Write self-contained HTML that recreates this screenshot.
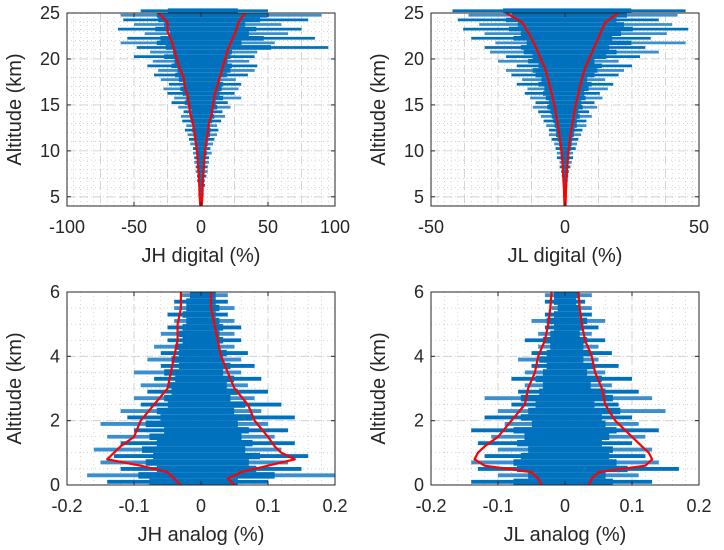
<!DOCTYPE html>
<html><head><meta charset="utf-8">
<style>
html,body{margin:0;padding:0;background:#fff;}
svg{display:block;font-family:"Liberation Sans",Arial,sans-serif;}
</style></head>
<body>
<svg id="fig" width="724" height="550" viewBox="0 0 724 550" xmlns="http://www.w3.org/2000/svg"></svg>
<script>
// ---- Panel 1: JH digital ----
const jhdBinStart = 4, jhdBinStep = 0.5;
const jhdBlueLeft = [-1,-1,-2,-2,-2,-3,-3,-4,-4,-5,-5,-6,-6,-8,-9,-10,-12,-11,-14,-15,-13,-17,-22,-20,-25,-28,-24,-30,-35,-32,-40,-36,-50,-38,-48,-60,-55,-42,-62,-50,-58,-60,-45];
const jhdBlueRight = [1,1,2,2,3,3,4,5,5,6,6,8,7,9,10,12,13,12,15,18,16,22,20,30,25,28,30,26,35,40,42,36,40,42,95,55,85,65,75,60,80,90,50];
const jhdRedAlt = [4,5,6,7,8,9,10,11,12,13,14,15,16,17,18,19,20,21,22,23,24,25];
const jhdRedLeft = [-0.5,-1,-1.2,-1.5,-2,-2.5,-3,-4,-5,-6,-8,-9,-10,-12,-13,-16,-18,-20,-22,-25,-25,-32];
const jhdRedRight = [0.5,1,1.2,1.5,2,2.5,3,4,5,6,8,9,10,12,14,16,18,20,23,26,28,33];
const jhdXTicks = [-100,-50,0,50,100];
const jhdYTicks = [5,10,15,20,25];

// ---- Panel 2: JL digital ----
const jldBinStart = 4, jldBinStep = 0.5;
const jldBlueLeft = [-0.3,-0.4,-0.5,-0.6,-0.8,-1,-1.2,-1.5,-2,-2,-3,-3,-3.5,-4,-5,-6,-6,-7,-8,-9,-10,-12,-11,-13,-15,-14,-18,-16,-20,-22,-18,-25,-22,-28,-30,-26,-35,-30,-38,-32,-40,-36,-42];
const jldBlueRight = [0.3,0.4,0.5,0.6,0.8,1,1.2,1.5,2,2.5,3,3,4,4.5,5,6,6.5,8,8,10,9,12,11,14,13,16,18,15,20,22,25,20,28,35,30,45,32,38,46,40,35,42,45];
const jldRedAlt = [4,5,6,7,8,9,10,11,12,13,14,15,16,17,18,19,20,21,22,23,24,25];
const jldRedLeft = [-0.2,-0.3,-0.4,-0.6,-0.8,-1,-1.3,-1.7,-2.2,-2.8,-3.4,-4,-4.8,-5.6,-6.5,-7.5,-9,-10.5,-12,-14,-16,-22];
const jldRedRight = [0.2,0.3,0.4,0.6,0.8,1,1.3,1.7,2.2,2.8,3.4,4,4.8,5.6,6.5,7.5,9,10.5,12,13.5,15,20];
const jldXTicks = [-50,0,50];
const jldYTicks = [5,10,15,20,25];

// ---- Panel 3: JH analog ----
const jhaBinStart = 0, jhaBinStep = 0.2;
const jhaBlueLeft = [-0.14,-0.17,-0.12,-0.15,-0.13,-0.16,-0.12,-0.14,-0.10,-0.15,-0.11,-0.12,-0.09,-0.10,-0.08,-0.09,-0.07,-0.10,-0.06,-0.08,-0.06,-0.07,-0.05,-0.06,-0.05,-0.04,-0.05,-0.04,-0.04,-0.03];
const jhaBlueRight = [0.10,0.20,0.15,0.13,0.16,0.12,0.14,0.11,0.13,0.10,0.14,0.09,0.12,0.08,0.10,0.07,0.09,0.06,0.08,0.06,0.07,0.05,0.06,0.05,0.06,0.05,0.04,0.05,0.04,0.04];
const jhaRedAlt = [0,0.2,0.4,0.6,0.8,1.0,1.2,1.5,2.0,2.5,3.0,3.5,4.0,4.5,5.0,5.5,6.0];
const jhaRedLeft = [-0.03,-0.04,-0.05,-0.09,-0.14,-0.13,-0.12,-0.10,-0.09,-0.07,-0.05,-0.045,-0.04,-0.035,-0.035,-0.03,-0.03];
const jhaRedRight = [0.05,0.04,0.06,0.10,0.14,0.12,0.11,0.10,0.08,0.07,0.05,0.04,0.03,0.025,0.02,0.015,0.015];
const jhaXTicks = [-0.2,-0.1,0,0.1,0.2];
const jhaYTicks = [0,2,4,6];

// ---- Panel 4: JL analog ----
const jlaBinStart = 0, jlaBinStep = 0.2;
const jlaBlueLeft = [-0.14,-0.10,-0.13,-0.14,-0.12,-0.10,-0.13,-0.11,-0.14,-0.09,-0.12,-0.10,-0.08,-0.12,-0.07,-0.06,-0.08,-0.06,-0.05,-0.07,-0.05,-0.04,-0.06,-0.04,-0.03,-0.05,-0.03,-0.02,-0.03,-0.03];
const jlaBlueRight = [0.13,0.11,0.17,0.14,0.12,0.13,0.10,0.12,0.14,0.11,0.10,0.15,0.08,0.13,0.11,0.07,0.10,0.06,0.08,0.05,0.07,0.05,0.06,0.04,0.05,0.06,0.04,0.04,0.03,0.04];
const jlaRedAlt = [0,0.2,0.4,0.6,0.8,1.0,1.2,1.5,2.0,2.5,3.0,3.5,4.0,4.5,5.0,5.5,6.0];
const jlaRedLeft = [-0.035,-0.04,-0.05,-0.12,-0.135,-0.13,-0.12,-0.10,-0.08,-0.06,-0.055,-0.045,-0.04,-0.03,-0.025,-0.022,-0.02];
const jlaRedRight = [0.035,0.04,0.05,0.12,0.13,0.125,0.115,0.10,0.075,0.06,0.055,0.045,0.04,0.03,0.025,0.022,0.02];
const jlaXTicks = [-0.2,-0.1,0,0.1,0.2];
const jlaYTicks = [0,2,4,6];

const NS = "http://www.w3.org/2000/svg";
const fig = document.getElementById('fig');
function mk(tag, attrs, parent){
  const e = document.createElementNS(NS, tag);
  for (const k in attrs) e.setAttribute(k, attrs[k]);
  (parent||fig).appendChild(e);
  return e;
}
function fmt(v){ return (Math.round(v*1000)/1000).toString(); }

function panel(p){
  const g = mk('g', {});
  
  
  const sx = v => p.x0 + (v - p.xmin) / (p.xmax - p.xmin) * (p.x1 - p.x0);
  const sy = v => p.y1 - (v - p.ymin) / (p.ymax - p.ymin) * (p.y1 - p.y0);
  for (let v = p.xmin; v <= p.xmax + 1e-9; v += p.xMinor) {
    mk('line', {x1:sx(v),x2:sx(v),y1:p.y0,y2:p.y1,stroke:'#bbb','stroke-width':0.6,'stroke-dasharray':'1 3'}, g);
  }
  for (let v = p.ymin; v <= p.ymax + 1e-9; v += p.yMinor) {
    mk('line', {x1:p.x0,x2:p.x1,y1:sy(v),y2:sy(v),stroke:'#bbb','stroke-width':0.6,'stroke-dasharray':'1 3'}, g);
  }
  for (let v = p.xmin; v <= p.xmax + 1e-9; v += p.xMajor) {
    mk('line', {x1:sx(v),x2:sx(v),y1:p.y0,y2:p.y1,stroke:'#ccc','stroke-width':0.8,'stroke-dasharray':'8 5'}, g);
  }
  p.yTicks.forEach(v => mk('line', {x1:p.x0,x2:p.x1,y1:sy(v),y2:sy(v),stroke:'#ccc','stroke-width':0.8,'stroke-dasharray':'8 5'}, g));
  const bh = Math.abs(sy(p.binStep) - sy(0));
  p.bl.forEach((l, i) => {
    const a = p.binStart + (i + 0.5) * p.binStep;
    const r = p.br[i];
    const ln = mk('line', {x1:sx(l),x2:sx(r),y1:sy(a),y2:sy(a),stroke:(i%2? '#3a8fd0':'#0072BD'),'stroke-width':bh*0.6}, g);
    
    
    const c = mk('line', {x1:sx(l*0.55),x2:sx(r*0.55),y1:sy(a),y2:sy(a),stroke:'#0072BD','stroke-width':bh}, g);
    
    
  });
  [p.rl, p.rr].forEach((arr, k) => {
    const d = arr.map((v, i) => (i ? 'L' : 'M') + sx(v).toFixed(1) + ' ' + sy(p.ra[i]).toFixed(1)).join(' ');
    const pa = mk('path', {d:d, fill:'none', stroke:'#ff0000', 'stroke-width':2.2, 'stroke-linejoin':'round'}, g);
    
    
  });
  const box = mk('rect', {x:p.x0,y:p.y0,width:p.x1-p.x0,height:p.y1-p.y0,fill:'none',stroke:'#262626','stroke-width':1}, g);
  
  
  p.xTicks.forEach(v => {
    mk('line', {x1:sx(v),x2:sx(v),y1:p.y1,y2:p.y1-4,stroke:'#262626'}, g);
    mk('line', {x1:sx(v),x2:sx(v),y1:p.y0,y2:p.y0+4,stroke:'#262626'}, g);
    const t = mk('text', {x:sx(v),y:p.y1+27,'text-anchor':'middle','font-size':18,fill:'#262626'}, g);
    t.textContent = fmt(v);
    
    
  });
  p.yTicks.forEach(v => {
    mk('line', {x1:p.x0,x2:p.x0+4,y1:sy(v),y2:sy(v),stroke:'#262626'}, g);
    mk('line', {x1:p.x1,x2:p.x1-4,y1:sy(v),y2:sy(v),stroke:'#262626'}, g);
    const t = mk('text', {x:p.x0-7,y:sy(v)+6,'text-anchor':'end','font-size':18,fill:'#262626'}, g);
    t.textContent = fmt(v);
    
    
  });
  const xt = mk('text', {x:(p.x0+p.x1)/2,y:p.y1+56,'text-anchor':'middle','font-size':20,fill:'#262626'}, g);
  xt.textContent = p.xlabel;
  
  
  const cy = (p.y0+p.y1)/2, cx = p.x0 - 46;
  const yt = mk('text', {x:cx,y:cy,'text-anchor':'middle','font-size':20,fill:'#262626',transform:`rotate(-90 ${cx} ${cy})`}, g);
  yt.textContent = 'Altitude (km)';
  
  
}

panel({name:'jh-digital-panel',x0:67,x1:335,y0:13,y1:206,xmin:-100,xmax:100,ymin:4,ymax:25,xMajor:25,xMinor:5,yMinor:1,
  xTicks:jhdXTicks,yTicks:jhdYTicks,binStart:jhdBinStart,binStep:jhdBinStep,bl:jhdBlueLeft,br:jhdBlueRight,
  ra:jhdRedAlt,rl:jhdRedLeft,rr:jhdRedRight,xlabel:'JH digital (%)'});
panel({name:'jl-digital-panel',x0:431,x1:699,y0:13,y1:206,xmin:-50,xmax:50,ymin:4,ymax:25,xMajor:12.5,xMinor:2.5,yMinor:1,
  xTicks:jldXTicks,yTicks:jldYTicks,binStart:jldBinStart,binStep:jldBinStep,bl:jldBlueLeft,br:jldBlueRight,
  ra:jldRedAlt,rl:jldRedLeft,rr:jldRedRight,xlabel:'JL digital (%)'});
panel({name:'jh-analog-panel',x0:67,x1:335,y0:292,y1:485,xmin:-0.2,xmax:0.2,ymin:0,ymax:6,xMajor:0.1,xMinor:0.02,yMinor:0.5,
  xTicks:jhaXTicks,yTicks:jhaYTicks,binStart:jhaBinStart,binStep:jhaBinStep,bl:jhaBlueLeft,br:jhaBlueRight,
  ra:jhaRedAlt,rl:jhaRedLeft,rr:jhaRedRight,xlabel:'JH analog (%)'});
panel({name:'jl-analog-panel',x0:431,x1:699,y0:292,y1:485,xmin:-0.2,xmax:0.2,ymin:0,ymax:6,xMajor:0.1,xMinor:0.02,yMinor:0.5,
  xTicks:jlaXTicks,yTicks:jlaYTicks,binStart:jlaBinStart,binStep:jlaBinStep,bl:jlaBlueLeft,br:jlaBlueRight,
  ra:jlaRedAlt,rl:jlaRedLeft,rr:jlaRedRight,xlabel:'JL analog (%)'});
</script>
</body></html>
